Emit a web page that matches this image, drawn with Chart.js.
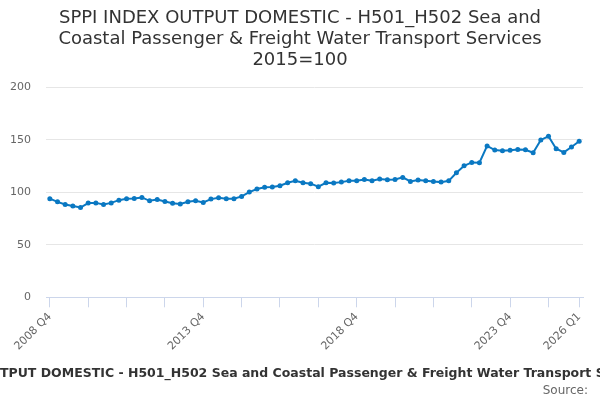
<!DOCTYPE html>
<html>
<head>
<meta charset="utf-8">
<script src="https://cdn.jsdelivr.net/npm/chart.js@4.4.1/dist/chart.umd.min.js"></script>
<style>
  html, body { margin: 0; padding: 0; background: #fff; }
  #wrap { width: 600px; height: 400px; position: relative; }
</style>
</head>
<body>
<div id="wrap"><canvas id="c" width="600" height="400"></canvas></div>
<script>
const titleLines = [
  "SPPI INDEX OUTPUT DOMESTIC - H501_H502 Sea and",
  "Coastal Passenger & Freight Water Transport Services",
  "2015=100"
];
const seriesName = "SPPI INDEX OUTPUT DOMESTIC - H501_H502 Sea and Coastal Passenger & Freight Water Transport Services";
const sourceText = "Source:";

const startYear = 2008, startQuarter = 4, pointCount = 70;
const categories = [];
for (let i = 0; i < pointCount; i++) {
  const q = startQuarter - 1 + i;
  categories.push((startYear + Math.floor(q / 4)) + " Q" + ((q % 4) + 1));
}
const shownLabels = ["2008 Q4", "2013 Q4", "2018 Q4", "2023 Q4", "2026 Q1"];

const values = [
  94, 91, 88.5, 87, 85.6, 89.8, 90, 88.5, 90, 92.6,
  93.9, 94.2, 95.2, 92, 93.3, 91.4, 89.6, 89, 91, 92,
  90.4, 93.6, 94.8, 93.9, 93.9, 96.2, 100.3, 103.2, 104.8, 105.1,
  106.3, 109.2, 111.1, 109.3, 108.3, 105.4, 109.2, 108.9, 109.8, 111.1,
  111.1, 112.4, 111.1, 112.7, 112, 112.4, 114.3, 110.5, 111.8, 111.1,
  110.3, 109.8, 111, 118.7, 125.4, 128.6, 128.3, 144.3, 140.4, 139.8,
  140.1, 141, 140.7, 137.8, 150, 153.5, 141.7, 138.1, 143.3, 148.7
];

const yTicks = [0, 50, 100, 150, 200];
const lineColor = '#0a78c2';
const FONT = "'DejaVu Sans', sans-serif";

const bottomTexts = {
  id: 'bottomTexts',
  afterDraw(chart) {
    const ctx = chart.ctx;
    ctx.save();
    ctx.font = "bold 12.5px " + FONT;
    ctx.fillStyle = '#333';
    ctx.textBaseline = 'middle';
    ctx.textAlign = 'left';
    const pre = ctx.measureText("SPPI INDEX OU").width;
    ctx.fillText(seriesName, 0 - pre, 374);
    ctx.font = "12px " + FONT;
    ctx.fillStyle = '#666';
    ctx.textAlign = 'right';
    ctx.fillText(sourceText, 588, 391);
    ctx.restore();
  }
};

new Chart(document.getElementById('c'), {
  type: 'line',
  data: {
    labels: categories,
    datasets: [{
      label: seriesName,
      data: values,
      borderColor: lineColor,
      backgroundColor: lineColor,
      borderWidth: 2,
      pointRadius: 2.5,
      pointHoverRadius: 3,
      pointBorderWidth: 0,
      tension: 0
    }]
  },
  options: {
    responsive: false,
    animation: false,
    layout: { padding: { left: 0, right: 0, top: 0, bottom: 42.7 } },
    plugins: {
      legend: { display: false },
      tooltip: { enabled: false },
      title: {
        display: true,
        text: titleLines,
        color: '#333',
        font: { family: FONT, size: 18, weight: 'normal', lineHeight: 21 / 18 },
        padding: { top: 7.5, bottom: 17 }
      }
    },
    scales: {
      x: {
        type: 'category',
        offset: true,
        afterFit(scale) { scale.height = 60; },
        border: { display: true, color: '#ccd6eb', width: 1 },
        grid: {
          offset: false,
          drawOnChartArea: false,
          drawTicks: true,
          tickLength: 10,
          tickColor: (ctx) => (ctx.index % 5 === 0 || ctx.index === pointCount - 1) ? '#ccd6eb' : 'rgba(0,0,0,0)',
          color: 'rgba(0,0,0,0)'
        },
        ticks: {
          autoSkip: false,
          minRotation: 45,
          maxRotation: 45,
          padding: 3,
          color: '#666',
          font: { family: FONT, size: 11 },
          callback(value, index) {
            const lab = categories[index];
            return shownLabels.includes(lab) ? lab : '';
          }
        }
      },
      y: {
        min: 0,
        max: 200,
        afterFit(scale) { scale.width = 46; },
        afterBuildTicks(scale) { scale.ticks = yTicks.map(v => ({ value: v })); },
        border: { display: false },
        grid: { color: '#e6e6e6', lineWidth: 1, drawTicks: false },
        ticks: {
          padding: 15,
          color: '#666',
          font: { family: FONT, size: 11 }
        }
      },
      yRightSpace: {
        position: 'right',
        min: 0,
        max: 1,
        afterFit(scale) { scale.width = 17; },
        border: { display: false },
        grid: { display: false, drawOnChartArea: false },
        ticks: { display: false }
      }
    }
  },
  plugins: [bottomTexts]
});
</script>
</body>
</html>
